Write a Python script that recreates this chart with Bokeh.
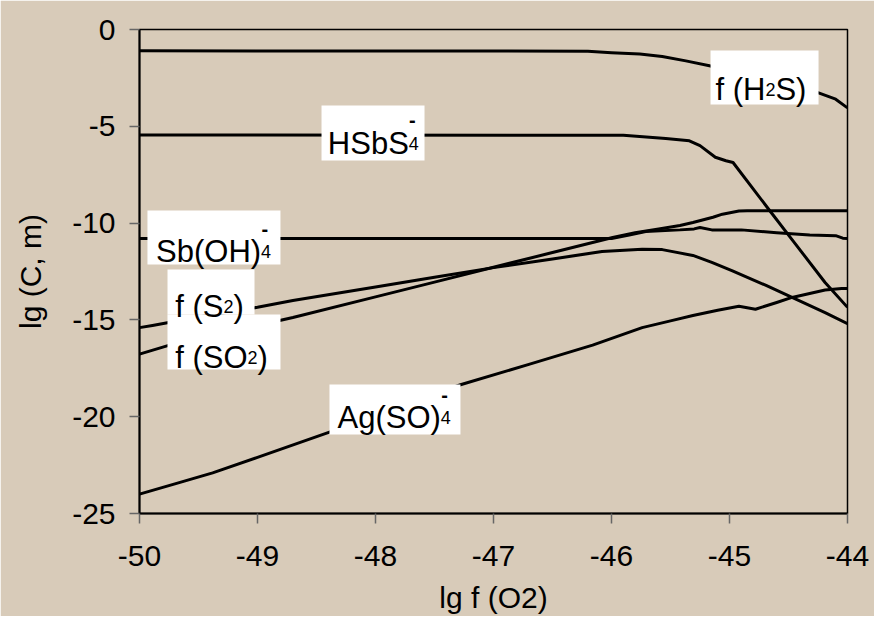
from bokeh.plotting import figure
from bokeh.models import Range1d, FixedTicker, ColumnDataSource, CustomJSTickFormatter
from bokeh.embed import file_html
from bokeh.resources import INLINE
from bokeh.core.properties import value

# ---- data ----
x_ticks = [-50, -49, -48, -47, -46, -45, -44]
y_ticks = [-25, -20, -15, -10, -5, 0]

x_h2s = [-50, -46.2, -46.0, -45.76, -45.57, -45.37, -45.17, -44.85, -44.55, -44.28, -44.1, -44.0]
y_h2s = [-1.1, -1.12, -1.2, -1.27, -1.39, -1.62, -1.87, -2.35, -2.85, -3.2, -3.6, -4.05]

x_hsbs = [-50, -45.9, -45.54, -45.34, -45.25, -45.12, -45.03, -44.97, -44.66, -44.47, -44.19, -44.0]
y_hsbs = [-5.45, -5.46, -5.63, -5.75, -6.0, -6.6, -6.78, -6.87, -9.35, -10.85, -13.07, -14.35]

x_sboh = [-50, -46.0, -45.85, -45.71, -45.42, -45.3, -45.25, -45.15, -44.9, -44.6, -44.32, -44.1, -44.04, -44.0]
y_sboh = [-10.8, -10.8, -10.62, -10.43, -10.35, -10.3, -10.23, -10.35, -10.35, -10.5, -10.62, -10.65, -10.78, -10.8]

x_s2 = [-50, -49.89, -49.5, -49.0, -48.7, -48.0, -47.5, -47.0, -46.5, -46.08, -45.74, -45.57,
        -45.31, -45.15, -44.98, -44.69, -44.47, -44.19, -44.0]
y_s2 = [-15.4, -15.29, -14.85, -14.35, -14.0, -13.3, -12.8, -12.3, -11.85, -11.47, -11.35, -11.37,
        -11.67, -12.03, -12.45, -13.22, -13.84, -14.62, -15.19]

x_so2 = [-50, -49.76, -49.0, -48.7, -48.0, -47.5, -47.0, -46.5, -46.16, -45.99, -45.8, -45.6,
         -45.42, -45.31, -45.14, -45.06, -44.92, -44.85, -44.0]
y_so2 = [-16.77, -16.33, -15.29, -14.88, -13.81, -13.05, -12.28, -11.52, -11.0, -10.74, -10.5, -10.3,
         -10.12, -9.97, -9.7, -9.54, -9.38, -9.36, -9.36]

x_ag = [-50, -49.7, -49.38, -49.0, -48.39, -47.8, -47.28, -46.7, -46.16, -45.95, -45.74, -45.5,
        -45.31, -45.1, -44.92, -44.78, -44.6, -44.47, -44.19, -44.05, -44.0]
y_ag = [-24.0, -23.47, -22.9, -22.1, -20.8, -19.5, -18.35, -17.3, -16.3, -15.85, -15.4, -15.05,
        -14.77, -14.5, -14.3, -14.45, -14.1, -13.84, -13.46, -13.38, -13.38]

series = [(x_h2s, y_h2s), (x_hsbs, y_hsbs), (x_sboh, y_sboh), (x_s2, y_s2), (x_so2, y_so2), (x_ag, y_ag)]

# ---- curve labels (white boxes) ----
box_x = [-44.703, -48.021, -49.369, -49.394, -49.284, -47.835]
box_y = [-2.479, -5.346, -10.744, -13.559, -16.141, -19.628]
box_w = [108, 103, 133, 87, 113, 131]
box_h = [54, 55, 54, 45, 55, 50]

# pieces: (label index, text, size, dx, dy, style)
pieces = [
    (0, "f (H", "31px", -49, 12, "normal"), (0, "2", "18px", 0.9, 12, "normal"), (0, "S)", "31px", 10.9, 12, "normal"),
    (1, "HSbS", "31px", -45.2, 10.5, "normal"), (1, "4", "18px", 35.8, 10.5, "normal"), (1, "-", "20px", 36, -12.5, "bold"),
    (2, "Sb(OH)", "31px", -57.9, 14, "normal"), (2, "4", "18px", 47.1, 14, "normal"), (2, "-", "20px", 47.5, -9, "bold"),
    (3, "f (S", "31px", -35.8, 14.8, "normal"), (3, "2", "18px", 12.4, 14.8, "normal"), (3, ")", "31px", 22.4, 14.8, "normal"),
    (4, "f (SO", "31px", -48.8, 15.5, "normal"), (4, "2", "18px", 23.6, 15.5, "normal"), (4, ")", "31px", 33.6, 15.5, "normal"),
    (5, "Ag(SO)", "31px", -57.5, 8, "normal"), (5, "4", "18px", 45.9, 8, "normal"), (5, "-", "20px", 46.2, -14, "bold"),
]

BG = "#D8CBB9"

p = figure(frame_width=708, frame_height=484,
           x_range=Range1d(-50, -44), y_range=Range1d(-25, 0),
           output_backend="svg", toolbar_location=None,
           min_border_left=139, min_border_right=27, min_border_top=29, min_border_bottom=101,
           background_fill_color=BG, border_fill_color=BG)

p.xgrid.visible = False
p.ygrid.visible = False
p.xaxis.ticker = FixedTicker(ticks=x_ticks)
p.yaxis.ticker = FixedTicker(ticks=y_ticks)
p.xaxis.formatter = CustomJSTickFormatter(code="return tick.toString();")
p.yaxis.formatter = CustomJSTickFormatter(code="return tick.toString();")
p.xaxis.axis_label = "lg f (O2)"
p.yaxis.axis_label = "lg (C, m)"
for ax in (p.xaxis[0], p.yaxis[0]):
    ax.major_label_text_font = "Liberation Sans"
    ax.major_label_text_font_size = "30px"
    ax.major_label_text_color = "black"
    ax.axis_label_text_font = "Liberation Sans"
    ax.axis_label_text_font_size = "30px"
    ax.axis_label_text_font_style = "normal"
    ax.axis_label_text_color = "black"
    ax.minor_tick_line_color = None
    ax.major_tick_in = 0
    ax.major_tick_out = 10
    ax.major_tick_line_color = "#666666"
    ax.major_tick_line_width = 1.5
    ax.axis_line_color = "black"
    ax.axis_line_width = 2
p.xaxis.major_label_standoff = 22
p.xaxis.axis_label_standoff = 12
p.yaxis.major_label_standoff = 14
p.yaxis.axis_label_standoff = 22

p.outline_line_color = "black"
p.outline_line_width = 1.5
p.outline_line_alpha = 1.0

for xs, ys in series:
    p.line(xs, ys, line_color="black", line_width=3, line_join="round")

p.rect(x=box_x, y=box_y, width=box_w, height=box_h, width_units="screen", height_units="screen",
       fill_color="white", line_color=None)

src = ColumnDataSource(dict(
    x=[box_x[i] for i, *_ in pieces],
    y=[box_y[i] for i, *_ in pieces],
    text=[t for _, t, *_ in pieces],
    size=[s for _, _, s, *_ in pieces],
    dx=[d for _, _, _, d, _, _ in pieces],
    dy=[d for _, _, _, _, d, _ in pieces],
    style=[st for *_, st in pieces],
))
p.text(x="x", y="y", text="text", source=src, x_offset="dx", y_offset="dy",
       text_font=value("Liberation Sans"), text_font_size="size", text_font_style="style",
       text_align="left", text_baseline="alphabetic", text_color="black")

open("out.html", "w").write(file_html(p, INLINE))
